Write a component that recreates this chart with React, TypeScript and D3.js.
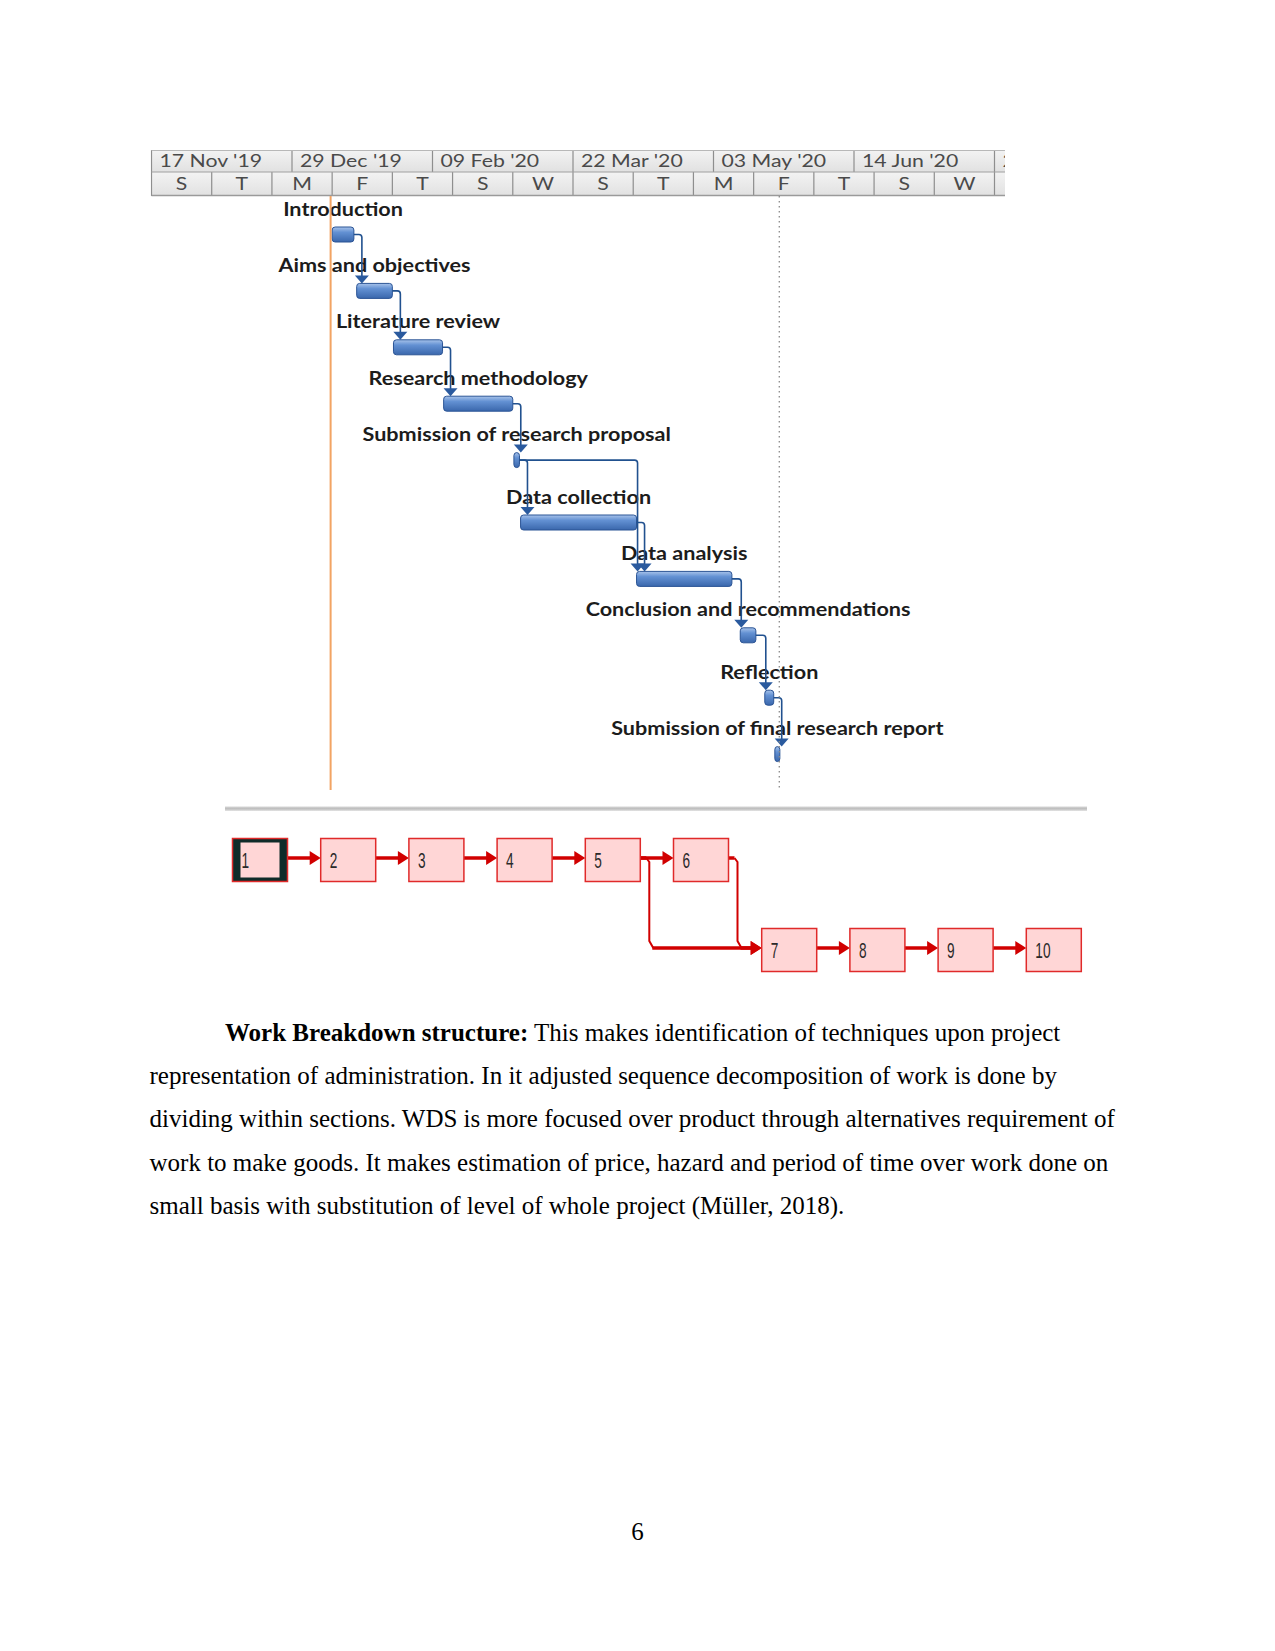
import React from 'react';
import * as d3 from 'd3';

// ---------- Gantt data ----------
const taskNames = [
  'Introduction',
  'Aims and objectives',
  'Literature review',
  'Research methodology',
  'Submission of research proposal',
  'Data collection',
  'Data analysis',
  'Conclusion and recommendations',
  'Reflection',
  'Submission of final research report',
];
const taskStarts = [
  '2020-01-10T00:00', '2020-01-17T08:00', '2020-01-28T08:00', '2020-02-12T08:00', '2020-03-04T08:00',
  '2020-03-06T08:00', '2020-04-10T00:00', '2020-05-11T00:00', '2020-05-18T08:00', '2020-05-21T08:00',
];
const taskEnds = [
  '2020-01-16T12:00', '2020-01-28T00:00', '2020-02-12T00:00', '2020-03-04T00:00', '2020-03-06T00:00',
  '2020-04-10T00:00', '2020-05-08T12:00', '2020-05-15T16:00', '2020-05-21T00:00', '2020-05-22T20:00',
];
// finish-to-start dependencies (1-based task ids)
const dependencies: [number, number][] = [
  [1, 2], [2, 3], [3, 4], [4, 5], [5, 6], [5, 7], [6, 7], [7, 8], [8, 9], [9, 10],
];

const majorTickDates = ['2019-11-17', '2019-12-29', '2020-02-09', '2020-03-22', '2020-05-03', '2020-06-14', '2020-07-26'];
const majorTickLabels = ["17 Nov '19", "29 Dec '19", "09 Feb '20", "22 Mar '20", "03 May '20", "14 Jun '20", "26 Jul '20"];
const minorTickLabels = ['S', 'T', 'M', 'F', 'T', 'S', 'W', 'S', 'T', 'M', 'F', 'T', 'S', 'W', 'S'];
const minorStepDays = 18;
const todayDate = '2020-01-09T13:00';
const statusDate = '2020-05-22T16:00';

// ---------- Network diagram data ----------
const nodeLabels = ['1', '2', '3', '4', '5', '6', '7', '8', '9', '10'];
const nodeRow = [0, 0, 0, 0, 0, 0, 1, 1, 1, 1];
const nodeCol = [0, 1, 2, 3, 4, 5, 6, 7, 8, 9];
const selectedNode = '1';

// ---------- Paragraph ----------
const paraBold = 'Work Breakdown structure:';
const paraLines = [
  ' This makes identification of techniques upon project',
  'representation of administration. In it adjusted sequence decomposition of work is done by',
  'dividing within sections. WDS is more focused over product through alternatives requirement of',
  'work to make goods. It makes estimation of price, hazard and period of time over work done on',
  'small basis with substitution of level of whole project (Müller, 2018).',
];
const pageNumber = '6';

// layout constants
const ROW_EXTRA = [0, 0, 0, 0, 0, 6, 6, 6, 12, 12];

export default function App() {
  const parseT = d3.utcParse('%Y-%m-%dT%H:%M');
  const parseD = d3.utcParse('%Y-%m-%d');
  const t0 = parseD('2019-11-17')!;
  const t1 = parseD('2020-07-26')!;
  const x = d3.scaleUtc().domain([t0, t1]).range([151.5, 994.5]);
  const rowScale = d3.scaleLinear().domain([0, 1]).range([234.5, 290.9]);
  const rowY = (i: number) => rowScale(i) + ROW_EXTRA[i];

  const hdrTop = 150, hdrMid = 172, hdrBot = 196, hdrLeft = 151.5, hdrRight = 1005;
  const barH = 15;

  const tasks = taskNames.map((name, i) => {
    const s = parseT(taskStarts[i])!;
    const e = parseT(taskEnds[i])!;
    return { name, x0: x(s), x1: x(e), cy: rowY(i) };
  });

  const minorDates = d3.range(minorTickLabels.length).map((k) => d3.utcDay.offset(t0, k * minorStepDays));
  const minorW = x(minorDates[1]) - x(minorDates[0]);

  const blue = '#21518f';

  // connectors
  const connectors = dependencies.map(([a, b], k) => {
    const A = tasks[a - 1];
    const B = tasks[b - 1];
    const vx = Math.max(A.x1 + 8, B.x0 + 1);
    const y0 = A.cy;
    const yTop = B.cy - barH / 2;
    const r = 3;
    const d = `M${A.x1},${y0} H${vx - r} Q${vx},${y0} ${vx},${y0 + r} V${yTop - 6}`;
    const arrow = `M${vx - 7},${yTop - 8} L${vx + 7},${yTop - 8} L${vx},${yTop} Z`;
    return { d, arrow, key: k };
  });

  // network
  const colX = d3.scaleLinear().domain([0, 1]).range([232.5, 320.7]);
  const rowTop = d3.scaleLinear().domain([0, 1]).range([838.5, 928.5]);
  const boxW = 55, boxH = 43, lineOff = 19.5;
  const red = '#d10000';
  const nodes = nodeLabels.map((lab, i) => ({ lab, x: colX(nodeCol[i]), y: rowTop(nodeRow[i]) }));
  const netLinks = dependencies.map(([a, b], k) => {
    const A = nodes[a - 1];
    const B = nodes[b - 1];
    const ly = A.y + lineOff;
    const ty = B.y + lineOff;
    const sx = A.x + boxW;
    const tx = B.x;
    if (nodeRow[a - 1] === nodeRow[b - 1]) {
      return (
        <g key={k}>
          <line x1={sx} y1={ly} x2={tx - 9} y2={ly} stroke={red} strokeWidth={3.5} />
          <path d={`M${tx - 11},${ly - 7} L${tx},${ly} L${tx - 11},${ly + 7} Z`} fill={red} />
        </g>
      );
    }
    const vx = sx + 9;
    return (
      <g key={k}>
        <line x1={sx} y1={ly} x2={vx - 3} y2={ly} stroke={red} strokeWidth={3.5} />
        <path d={`M${vx - 3},${ly} L${vx},${ly + 4} V${ty - 7} L${vx + 4},${ty}`} fill="none" stroke={red} strokeWidth={2} />
        <line x1={vx + 3} y1={ty} x2={tx - 9} y2={ty} stroke={red} strokeWidth={3.5} />
        <path d={`M${tx - 11},${ty - 7} L${tx},${ty} L${tx - 11},${ty + 7} Z`} fill={red} />
      </g>
    );
  });

  const lineY = (i: number) => 1041 + i * 43.2;

  return (
    <svg width={1275} height={1651} style={{ position: 'absolute', left: 0, top: 0, background: '#fff' }}>
      <defs>
        <linearGradient id="barGrad" x1="0" y1="0" x2="0" y2="1">
          <stop offset="0%" stopColor="#a8c3ea" />
          <stop offset="35%" stopColor="#6391d3" />
          <stop offset="100%" stopColor="#3a67ac" />
        </linearGradient>
        <linearGradient id="hdrGrad" x1="0" y1="0" x2="0" y2="1">
          <stop offset="0%" stopColor="#f3f3f3" />
          <stop offset="100%" stopColor="#e1e1e1" />
        </linearGradient>
        <linearGradient id="sepGrad" x1="0" y1="0" x2="0" y2="1">
          <stop offset="0%" stopColor="#d6d6d6" />
          <stop offset="50%" stopColor="#bdbdbd" />
          <stop offset="100%" stopColor="#e4e4e4" />
        </linearGradient>
        <clipPath id="hdrClip">
          <rect x={hdrLeft - 1} y={hdrTop - 1} width={hdrRight - hdrLeft + 1} height={hdrBot - hdrTop + 2} />
        </clipPath>
      </defs>

      {/* ---------- Timescale header ---------- */}
      <g clipPath="url(#hdrClip)" fontFamily="Lato, 'Open Sans', sans-serif" fill="#4a4a4a">
        <rect x={hdrLeft} y={hdrTop} width={hdrRight - hdrLeft} height={hdrMid - hdrTop} fill="url(#hdrGrad)" />
        <rect x={hdrLeft} y={hdrMid} width={hdrRight - hdrLeft} height={hdrBot - hdrMid} fill="url(#hdrGrad)" />
        {majorTickDates.map((d, i) => {
          const px = x(parseD(d)!);
          return (
            <g key={d}>
              <line x1={px} y1={hdrTop} x2={px} y2={hdrMid} stroke="#8e8e8e" strokeWidth={1.2} />
              <text transform={`translate(${px + 8},${hdrTop + 17}) scale(1.25,1)`} fontSize={17}>
                {majorTickLabels[i]}
              </text>
            </g>
          );
        })}
        {minorDates.map((d, i) => {
          const px = x(d);
          return (
            <g key={i}>
              <line x1={px} y1={hdrMid} x2={px} y2={hdrBot} stroke="#8e8e8e" strokeWidth={1.2} />
              {i < 14 && (
                <text transform={`translate(${px + minorW / 2},${hdrBot - 6.5}) scale(1.25,1)`} fontSize={17} textAnchor="middle">
                  {minorTickLabels[i]}
                </text>
              )}
            </g>
          );
        })}
        <line x1={hdrLeft} y1={hdrTop + 0.5} x2={hdrRight} y2={hdrTop + 0.5} stroke="#b8b8b8" />
        <line x1={hdrLeft} y1={hdrMid} x2={hdrRight} y2={hdrMid} stroke="#a0a0a0" />
        <line x1={hdrLeft} y1={hdrBot - 0.5} x2={hdrRight} y2={hdrBot - 0.5} stroke="#9a9a9a" strokeWidth={1.5} />
      </g>

      {/* ---------- Labels ---------- */}
      <g fontFamily="Lato, 'Open Sans', sans-serif" fontWeight={700} fill="#1c1c1c">
        {tasks.map((t, i) => (
          <text
            key={i}
            transform={`translate(${(t.x0 + t.x1) / 2},${t.cy - 19}) scale(1.2,1)`}
            fontSize={18}
            textAnchor="middle"
          >
            {t.name}
          </text>
        ))}
      </g>

      {/* ---------- Bars ---------- */}
      {tasks.map((t, i) => (
        <rect
          key={i}
          x={t.x0}
          y={t.cy - barH / 2}
          width={Math.max(2, t.x1 - t.x0)}
          height={barH}
          rx={3}
          fill="url(#barGrad)"
          stroke="#2b5495"
          strokeWidth={1}
        />
      ))}

      {/* ---------- Connectors ---------- */}
      {connectors.map((c) => (
        <g key={c.key}>
          <path d={c.d} fill="none" stroke={blue} strokeWidth={1.6} />
          <path d={c.arrow} fill="#2a5a9e" />
        </g>
      ))}

      {/* ---------- Today / status lines ---------- */}
      <line x1={x(parseT(todayDate)!)} y1={hdrBot} x2={x(parseT(todayDate)!)} y2={790} stroke="#f2a463" strokeWidth={2} />
      <line
        x1={x(parseT(statusDate)!)}
        y1={hdrBot}
        x2={x(parseT(statusDate)!)}
        y2={788}
        stroke="#8a8a8a"
        strokeWidth={1.3}
        strokeDasharray="1.5 3.5"
      />

      {/* ---------- Separator ---------- */}
      <rect x={225} y={806.5} width={862} height={4.5} fill="url(#sepGrad)" />

      {/* ---------- Network diagram ---------- */}
      {netLinks}
      {nodes.map((n) => (
        <g key={n.lab}>
          {n.lab === selectedNode ? (
            <>
              <rect x={n.x} y={n.y} width={boxW} height={boxH} fill="#0f2b29" stroke="#e02a2a" strokeWidth={1.5} />
              <rect x={n.x + 8} y={n.y + 4} width={boxW - 16} height={boxH - 8} fill="#ffd6d6" />
            </>
          ) : (
            <rect x={n.x} y={n.y} width={boxW} height={boxH} fill="#ffd6d6" stroke="#e02a2a" strokeWidth={1.5} />
          )}
          <text
            transform={`translate(${n.x + 9},${n.y + 29}) scale(0.62,1)`}
            fontFamily="'Liberation Sans', Arial, sans-serif"
            fontSize={22}
            fill="#2a2a2a"
          >
            {n.lab}
          </text>
        </g>
      ))}

      {/* ---------- Paragraph ---------- */}
      <g fontFamily="'Liberation Serif', 'Times New Roman', serif" fontSize={25} fill="#000">
        <text x={225} y={lineY(0)}>
          <tspan fontWeight={700}>{paraBold}</tspan>
          <tspan>{paraLines[0]}</tspan>
        </text>
        {paraLines.slice(1).map((l, i) => (
          <text key={i} x={149.5} y={lineY(i + 1)}>
            {l}
          </text>
        ))}
        <text x={637.5} y={1540} textAnchor="middle">
          {pageNumber}
        </text>
      </g>
    </svg>
  );
}
